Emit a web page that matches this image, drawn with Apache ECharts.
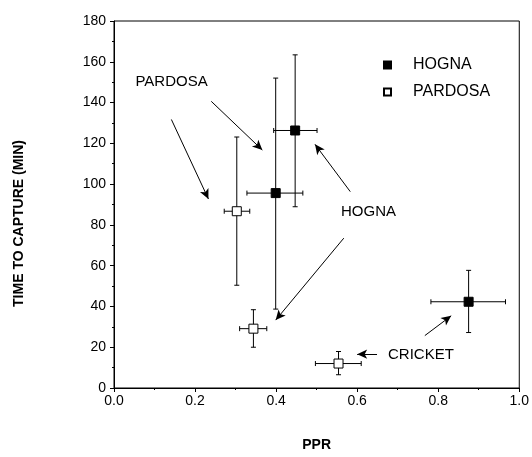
<!DOCTYPE html>
<html><head><meta charset="utf-8">
<script src="https://cdn.jsdelivr.net/npm/echarts@6/dist/echarts.min.js"></script>
<style>html,body{margin:0;padding:0;background:#fff}#c{width:532px;height:457px}</style>
</head><body><div id="c"></div>
<script>
// ---- data ----
var hognaPPR     = [0.447, 0.399, 0.875];
var hognaTime    = [126.3, 95.6, 42.3];
var hognaPPRLo   = [0.394, 0.328, 0.782];
var hognaPPRHi   = [0.501, 0.466, 0.966];
var hognaTimeLo  = [88.9, 38.7, 27.2];
var hognaTimeHi  = [163.4, 152.0, 57.7];

var pardosaPPR    = [0.303, 0.344, 0.554];
var pardosaTime   = [86.7, 29.1, 12.0];
var pardosaPPRLo  = [0.272, 0.310, 0.497];
var pardosaPPRHi  = [0.335, 0.377, 0.610];
var pardosaTimeLo = [50.4, 20.0, 6.5];
var pardosaTimeHi = [123.1, 38.4, 17.9];

var noteTexts = ['PARDOSA', 'HOGNA', 'CRICKET'];
var noteX     = [0.142, 0.628, 0.676];
var noteY     = [150.2, 86.2, 16.3];
var noteAlign = ['center', 'center', 'left'];

var arrowFromX = [0.1416, 0.240, 0.583, 0.567, 0.649, 0.767];
var arrowFromY = [131.7, 140.6, 96.3, 73.5, 16.6, 25.7];
var arrowToX   = [0.233, 0.366, 0.496, 0.399, 0.600, 0.832];
var arrowToY   = [92.7, 116.7, 119.5, 33.3, 16.6, 35.4];

var FONT = 'Liberation Sans, Arial, sans-serif';

function pts(x, y) { return x.map(function (v, i) { return [v, y[i]]; }); }
function errData(x, y, xl, xh, yl, yh) {
  return x.map(function (v, i) { return [v, y[i], xl[i], xh[i], yl[i], yh[i]]; });
}
function errRender(params, api) {
  var c = api.coord([api.value(0), api.value(1)]);
  var l = api.coord([api.value(2), api.value(1)]);
  var r = api.coord([api.value(3), api.value(1)]);
  var b = api.coord([api.value(0), api.value(4)]);
  var t = api.coord([api.value(0), api.value(5)]);
  var cap = 2.5;
  var st = { stroke: '#000', lineWidth: 1 };
  function ln(x1, y1, x2, y2) { return { type: 'line', shape: { x1: x1, y1: y1, x2: x2, y2: y2 }, style: st }; }
  return { type: 'group', children: [
    ln(l[0], c[1], r[0], c[1]),
    ln(l[0], c[1] - cap, l[0], c[1] + cap),
    ln(r[0], c[1] - cap, r[0], c[1] + cap),
    ln(c[0], b[1], c[0], t[1]),
    ln(c[0] - cap, b[1], c[0] + cap, b[1]),
    ln(c[0] - cap, t[1], c[0] + cap, t[1])
  ]};
}

var arrows = arrowFromX.map(function (v, i) {
  return [{ coord: [v, arrowFromY[i]], symbol: 'none' },
          { coord: [arrowToX[i], arrowToY[i]], symbol: 'arrow', symbolSize: [7, 10] }];
});
var notes = noteTexts.map(function (t, i) {
  return { name: t, value: [noteX[i], noteY[i]], label: { align: noteAlign[i] } };
});

var chart = echarts.init(document.getElementById('c'), null, { renderer: 'canvas' });
chart.setOption({
  animation: false,
  backgroundColor: '#fff',
  textStyle: { fontFamily: FONT },
  grid: { left: 114, right: 10.5, top: 21, bottom: 67, show: true, borderColor: '#000', borderWidth: 1, backgroundColor: 'transparent' },
  legend: {
    data: ['HOGNA', 'PARDOSA'], orient: 'vertical', left: 378, top: 52,
    icon: 'rect', itemWidth: 7, itemHeight: 7, itemGap: 11,
    textStyle: { fontSize: 16, color: '#000', fontFamily: FONT, padding: [0, 0, 0, 17] }
  },
  xAxis: {
    type: 'value', min: 0, max: 1, interval: 0.2,
    name: 'PPR', nameLocation: 'middle', nameGap: 50,
    nameTextStyle: { fontSize: 14, fontWeight: 'bold', color: '#000', fontFamily: FONT },
    axisLine: { lineStyle: { color: '#000', width: 1 } },
    axisTick: { show: true, length: 4, lineStyle: { color: '#000' } },
    minorTick: { show: true, splitNumber: 2, length: 2, lineStyle: { color: '#000' } },
    splitLine: { show: false },
    axisLabel: { fontSize: 14, color: '#000', margin: 6, fontFamily: FONT,
      formatter: function (v) { return v.toFixed(1); } }
  },
  yAxis: {
    type: 'value', min: 0, max: 180, interval: 20,
    axisLine: { lineStyle: { color: '#000', width: 1 } },
    axisTick: { show: true, length: 4, lineStyle: { color: '#000' } },
    minorTick: { show: true, splitNumber: 2, length: 2, lineStyle: { color: '#000' } },
    splitLine: { show: false },
    axisLabel: { fontSize: 14, color: '#000', margin: 8, fontFamily: FONT }
  },
  graphic: [{
    type: 'text', left: 12, top: 140, rotation: Math.PI / 2, originX: 0, originY: 0,
    style: { text: 'TIME TO CAPTURE (MIN)', font: 'bold 14px ' + FONT, fill: '#000' }
  }],
  series: [
    { name: 'HOGNA-err', type: 'custom', renderItem: errRender, z: 1,
      data: errData(hognaPPR, hognaTime, hognaPPRLo, hognaPPRHi, hognaTimeLo, hognaTimeHi),
      encode: { x: [0, 2, 3], y: [1, 4, 5] }, silent: true },
    { name: 'PARDOSA-err', type: 'custom', renderItem: errRender, z: 1,
      data: errData(pardosaPPR, pardosaTime, pardosaPPRLo, pardosaPPRHi, pardosaTimeLo, pardosaTimeHi),
      encode: { x: [0, 2, 3], y: [1, 4, 5] }, silent: true },
    { name: 'HOGNA', type: 'scatter', symbol: 'rect', symbolSize: 9, z: 3,
      itemStyle: { color: '#000', borderColor: '#000', borderWidth: 1, opacity: 1 },
      data: pts(hognaPPR, hognaTime) },
    { name: 'PARDOSA', type: 'scatter', symbol: 'rect', symbolSize: 9, z: 3,
      itemStyle: { color: '#fff', borderColor: '#000', borderWidth: 1, opacity: 1 },
      data: pts(pardosaPPR, pardosaTime) },
    { name: 'notes', type: 'scatter', symbolSize: 0, z: 4, silent: true,
      itemStyle: { opacity: 1, color: '#000' },
      label: { show: true, position: 'inside', formatter: '{b}', fontSize: 15, color: '#000', opacity: 1,
        fontFamily: FONT, verticalAlign: 'middle', textBorderWidth: 0 },
      data: notes,
      markLine: { silent: true, animation: false, symbol: ['none', 'arrow'], symbolSize: [7, 10],
        label: { show: false }, lineStyle: { color: '#000', width: 1, type: 'solid', opacity: 1 },
        data: arrows }
    }
  ]
});
</script></body></html>
